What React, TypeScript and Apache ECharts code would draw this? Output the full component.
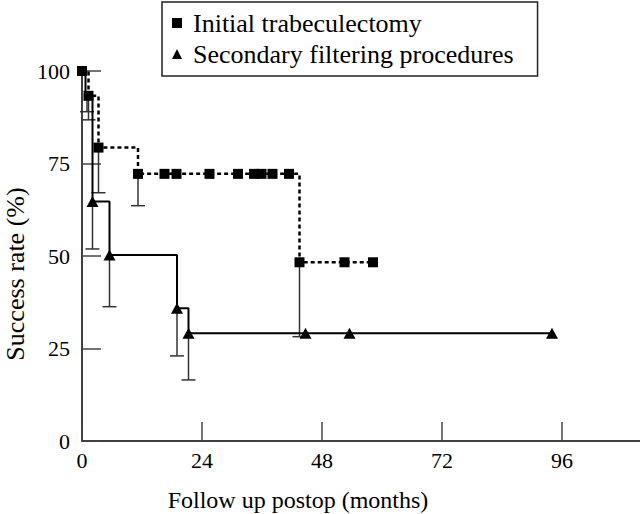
import React, { useEffect, useRef } from "react";
import * as echarts from "echarts";

// Kaplan-Meier style data
const initialMonths = [0, 1.3, 3.3, 11.2, 16.5, 18.9, 25.5, 31.2, 34.4, 35.9, 38.1, 41.4, 43.5, 52.5, 58.2];
const initialRates = [100, 93.3, 79.3, 72.2, 72.2, 72.2, 72.2, 72.2, 72.2, 72.2, 72.2, 72.2, 48.3, 48.3, 48.3];

const secondaryMonths = [0, 0.7, 2.1, 5.5, 19.0, 21.3, 44.7, 53.5, 94.0];
const secondaryRates = [100, 93.3, 64.7, 50.3, 35.9, 29.1, 29.1, 29.1, 29.1];
const secondaryHiddenMarkers = [true, true, false, false, false, false, false, false, false];

// Lower error bars (point value -> lower bound)
const initialErrMonths = [1.3, 3.3, 11.2, 43.5];
const initialErrTop = [93.3, 79.3, 72.2, 48.3];
const initialErrLow = [86.8, 67.1, 63.6, 28.2];

const secondaryErrMonths = [1.0, 2.1, 5.5, 19.0, 21.3];
const secondaryErrTop = [93.3, 64.7, 50.3, 35.9, 29.1];
const secondaryErrLow = [89.0, 51.9, 36.3, 23.0, 16.5];

const xTicksInterval = 24;
const yTicksInterval = 25;

const seriesNames = ["Initial trabeculectomy", "Secondary filtering procedures"];
const xAxisTitle = "Follow up postop (months)";
const yAxisTitle = "Success rate (%)";

const FONT = "Liberation Serif";

function errorBarRender(params: any, api: any) {
  const x = api.value(0);
  const top = api.value(1);
  const low = api.value(2);
  const p1 = api.coord([x, top]);
  const p2 = api.coord([x, low]);
  const style = { stroke: "#333", lineWidth: 1.5 };
  return {
    type: "group",
    children: [
      { type: "line", shape: { x1: p1[0], y1: p1[1], x2: p2[0], y2: p2[1] }, style },
      { type: "line", shape: { x1: p2[0] - 7, y1: p2[1], x2: p2[0] + 7, y2: p2[1] }, style },
    ],
  };
}

export default function App() {
  const ref = useRef<HTMLDivElement>(null);
  useEffect(() => {
    document.body.style.margin = "0";
    if (!ref.current) return;
    const chart = echarts.init(ref.current, null, { renderer: "svg" });
    const initialData = initialMonths.map((m, i) => [m, initialRates[i]]);
    const secondaryData = secondaryMonths.map((m, i) =>
      secondaryHiddenMarkers[i]
        ? { value: [m, secondaryRates[i]], symbol: "none" }
        : { value: [m, secondaryRates[i]] }
    );
    const initialErr = initialErrMonths.map((m, i) => [m, initialErrTop[i], initialErrLow[i]]);
    const secondaryErr = secondaryErrMonths.map((m, i) => [m, secondaryErrTop[i], secondaryErrLow[i]]);

    chart.setOption({
      animation: false,
      backgroundColor: "#fff",
      grid: { left: 82, width: 600, top: 71, height: 370, containLabel: false, outerBoundsMode: "none" },
      legend: {
        orient: "vertical",
        left: 162,
        top: 2,
        padding: [8, 24, 9, 10],
        itemGap: 5,
        itemWidth: 10,
        itemHeight: 10,
        borderColor: "#222",
        borderWidth: 1.5,
        borderRadius: 0,
        textStyle: { fontFamily: FONT, fontSize: 26, color: "#000", padding: [0, 0, 0, 6] },
        data: [
          { name: seriesNames[0], icon: "rect" },
          { name: seriesNames[1], icon: "triangle" },
        ],
      },
      xAxis: {
        type: "value",
        min: 0,
        max: 120,
        interval: xTicksInterval,
        axisLine: { show: true, lineStyle: { color: "#000", width: 1.5 } },
        axisTick: { show: true, inside: true, length: 19, lineStyle: { color: "#444", width: 1.5 } },
        axisLabel: { margin: 8, fontFamily: FONT, fontSize: 22, color: "#000", showMaxLabel: false },
        splitLine: { show: false },
      },
      yAxis: {
        type: "value",
        min: 0,
        max: 100,
        interval: yTicksInterval,
        axisLine: { show: true, lineStyle: { color: "#000", width: 1.5 } },
        axisTick: { show: true, inside: true, length: 19, lineStyle: { color: "#444", width: 1.5 } },
        axisLabel: { margin: 12, fontFamily: FONT, fontSize: 22, color: "#000" },
        splitLine: { show: false },
      },
      graphic: [
        {
          type: "text",
          x: 298,
          y: 500,
          style: { text: xAxisTitle, fontFamily: FONT, fontSize: 24, fill: "#000", align: "center", verticalAlign: "middle" },
        },
        {
          type: "text",
          x: 15,
          y: 274,
          rotation: Math.PI / 2,
          style: { text: yAxisTitle, fontFamily: FONT, fontSize: 26, fill: "#000", align: "center", verticalAlign: "middle" },
        },
      ],
      series: [
        {
          name: seriesNames[0],
          type: "line",
          step: "end",
          data: initialData,
          symbol: "rect",
          symbolSize: 10,
          showAllSymbol: true,
          itemStyle: { color: "#000" },
          lineStyle: { color: "#000", width: 2.5, type: [4, 3] },
          z: 4,
        },
        {
          name: seriesNames[1],
          type: "line",
          step: "end",
          data: secondaryData,
          symbol: "triangle",
          symbolSize: [12, 11],
          showAllSymbol: true,
          itemStyle: { color: "#000" },
          lineStyle: { color: "#000", width: 2 },
          z: 3,
        },
        {
          type: "custom",
          renderItem: errorBarRender,
          data: initialErr,
          encode: { x: 0, y: [1, 2] },
          z: 2,
          silent: true,
        },
        {
          type: "custom",
          renderItem: errorBarRender,
          data: secondaryErr,
          encode: { x: 0, y: [1, 2] },
          z: 2,
          silent: true,
        },
      ],
    });
    return () => chart.dispose();
  }, []);
  return <div ref={ref} style={{ width: 640, height: 514 }} />;
}
